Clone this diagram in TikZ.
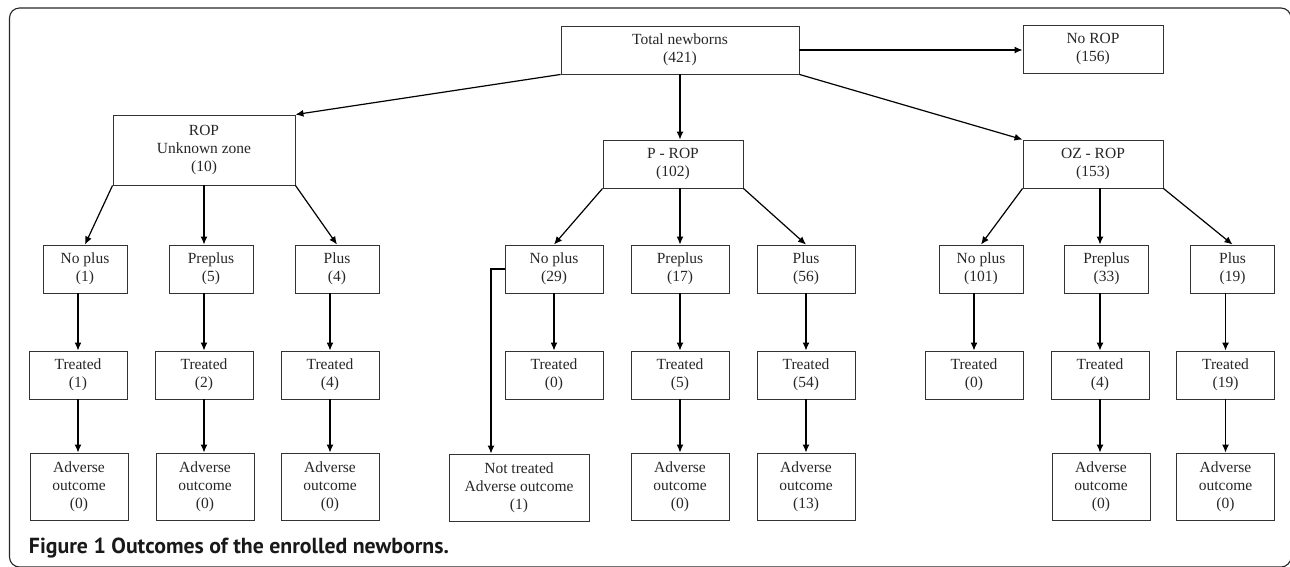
\documentclass[tikz,border=0pt]{standalone}
\usepackage{fontspec}
\setmainfont{Liberation Serif}
\newfontfamily\capfont{PT Sans}
\usetikzlibrary{arrows.meta}

\begin{document}
\begin{tikzpicture}[x=1pt,y=-1pt,>={Latex[length=8pt,width=7pt]},line width=1.2pt,
    box/.style={rectangle,draw=black!80,line width=0.9pt,align=center,inner sep=2pt,minimum height=48pt,text=black!85,font=\fontsize{15.5}{18}\selectfont},
    small box/.style={box,minimum width=84pt},
    mid box/.style={box,minimum width=98pt},
    out box/.style={box,minimum width=98pt,minimum height=67pt}]

    \useasboundingbox (0,0) rectangle (1290,566);
    \clip (0,0) rectangle (1290,566);
    \draw[black!85,line width=1.1pt,rounded corners=10pt] (9.5,8) rectangle (1291,567);

    \node (1) at (680,50) [box, minimum width=238pt]{Total newborns\\(421)};
    \node (2) at (1093,49) [box, minimum width=140pt]{No ROP\\(156)};

    \node (3) at (204,150) [box, minimum width=182pt, minimum height=70pt]{ROP\\Unknown zone\\(10)};
    \node (4) at (673,164) [box, minimum width=140pt]{P - ROP\\(102)};
    \node (5) at (1093,164) [box, minimum width=140pt]{OZ - ROP\\(153)};

    \node (6) at (85,269) [small box]{No plus\\(1)};
    \node (7) at (211,269) [small box]{Preplus\\(5)};
    \node (8) at (337,269) [small box]{Plus\\(4)};
    \node (9) at (554,269) [mid box]{No plus\\(29)};
    \node (10) at (680,269) [mid box]{Preplus\\(17)};
    \node (11) at (806,269) [mid box]{Plus\\(56)};
    \node (12) at (981,269) [small box]{No plus\\(101)};
    \node (13) at (1106.5,269) [small box]{Preplus\\(33)};
    \node (14) at (1232.5,269) [small box]{Plus\\(19)};

    \node (15) at (78,375) [mid box]{Treated\\(1)};
    \node (16) at (204,375) [mid box]{Treated\\(2)};
    \node (17) at (330,375) [mid box]{Treated\\(4)};
    \node (18) at (554,375) [mid box]{Treated\\(0)};
    \node (19) at (680,375) [mid box]{Treated\\(5)};
    \node (20) at (806,375) [mid box]{Treated\\(54)};
    \node (21) at (974,375) [mid box]{Treated\\(0)};
    \node (22) at (1100,375) [mid box]{Treated\\(4)};
    \node (23) at (1225.5,375) [mid box]{Treated\\(19)};

    \node (24) at (79,486.5) [out box]{Adverse\\outcome\\(0)};
    \node (25) at (205,486.5) [out box]{Adverse\\outcome\\(0)};
    \node (26) at (330,486.5) [out box]{Adverse\\outcome\\(0)};
    \node (27) at (519,487.5) [out box, minimum width=140pt]{Not treated\\Adverse outcome\\(1)};
    \node (28) at (680,486.5) [out box]{Adverse\\outcome\\(0)};
    \node (29) at (806,486.5) [out box]{Adverse\\outcome\\(13)};
    \node (30) at (1101,486.5) [out box]{Adverse\\outcome\\(0)};
    \node (31) at (1225.5,486.5) [out box]{Adverse\\outcome\\(0)};

    \path[->]
        (1.east) edge (1.east -| 2.west)
        (1.south west) edge (3.north east)
        (1.south) edge (1.south |- 4.north)
        (1.south east) edge (5.north west)

        (3.south west) edge (6.north)
        (3.south) edge (3.south |- 7.north)
        (3.south east) edge (8.north)
        (4.south west) edge (9.north)
        (4.south -| 10) edge (10.north)
        (4.south east) edge (11.north)
        (5.south west) edge (12.north)
        (5.south -| 22) edge (13.north -| 22)
        (5.south east) edge (14.north)

        (6.south -| 15) edge (15.north)
        (7.south -| 16) edge (16.north)
        (8.south -| 17) edge (17.north)
        (9.south) edge (18.north)
        (10.south) edge (19.north)
        (11.south) edge (20.north)
        (12.south -| 21) edge (21.north)
        (13.south -| 22) edge (22.north)
        (14.south -| 23) edge (23.north)

        (15.south) edge (15.south |- 24.north)
        (16.south) edge (16.south |- 25.north)
        (17.south) edge (17.south |- 26.north)
        (19.south) edge (28.north)
        (20.south) edge (29.north)
        (22.south) edge (22.south |- 30.north)
        (23.south) edge (31.north)
    ;
    \draw[->] (9.west) -| ([xshift=-28pt]27.north);

    \node (cap) at (25,553) [anchor=base west, text=black!90, font=\capfont\bfseries\fontsize{21.8}{24}\selectfont]{Figure 1 Outcomes of the enrolled newborns.};
\end{tikzpicture}
\end{document}
